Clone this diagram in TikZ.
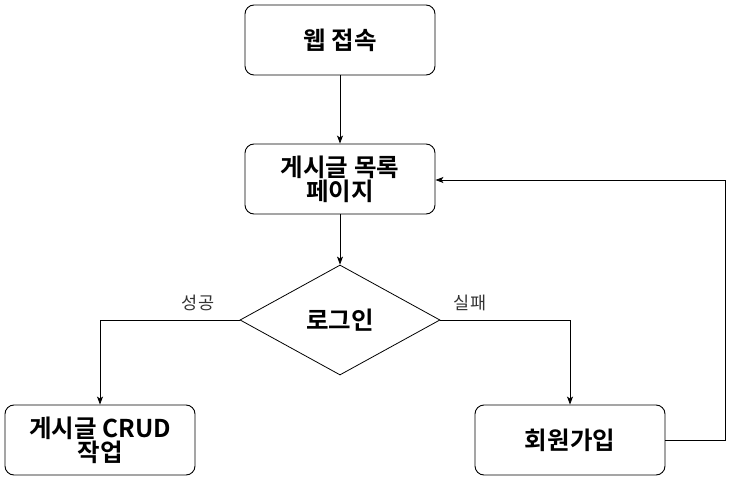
\documentclass[tikz,border=0pt]{standalone}
\usepackage{fontspec}
\newfontfamily\kr{Noto Sans CJK KR}
\newfontfamily\krb{Noto Sans CJK KR Bold}
\usetikzlibrary{shapes.geometric,arrows.meta}
\begin{document}
\begin{tikzpicture}[x=1pt,y=-1pt,
  box/.style={draw,rounded corners=9pt,minimum width=190pt,minimum height=70pt,align=center,font=\krb\fontsize{24.5}{28}\selectfont,line width=0.9pt,inner sep=2pt},
  dec/.style={draw,diamond,aspect=1.818,minimum width=200pt,minimum height=110pt,inner sep=0pt,font=\krb\fontsize{24.5}{28}\selectfont,line width=0.8pt},
  arr/.style={line width=0.8pt,-{Stealth[length=8pt,width=6pt,inset=2pt]}},
  lbl/.style={font=\kr\fontsize{17.5}{20}\selectfont,text=black!80}]
\useasboundingbox (0,0) rectangle (739,481);
\node[box] (web) at (340,40) {웹 접속};
\node[box] (list) at (340,179) {게시글 목록\\[-4pt]페이지};
\node[dec] (login) at (340,320) {로그인};
\node[box] (crud) at (100,440) {게시글 CRUD\\[-4pt]작업};
\node[box] (join) at (570,440) {회원가입};
\draw[arr] (web) -- (list);
\draw[arr] (list) -- (login);
\draw[arr] (login.west) -| (crud.north);
\draw[arr] (login.east) -| (join.north);
\coordinate (c1) at (725,440);
\coordinate (c2) at (725,180);
\draw[arr] (join.east) -- (c1) -- (c2) -- (list.east |- c2);
\node[lbl] (s) at (198,303) {성공};
\node[lbl] (f) at (470,303) {실패};
\end{tikzpicture}
\end{document}
